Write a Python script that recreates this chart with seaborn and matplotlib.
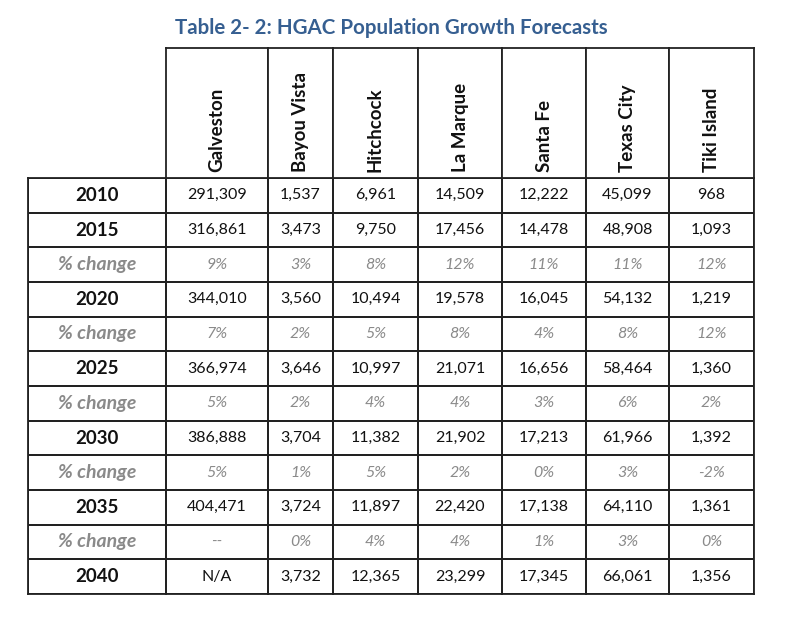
import numpy as np
import matplotlib
matplotlib.use("Agg")
import matplotlib.pyplot as plt
from matplotlib.colors import ListedColormap
import seaborn as sns

# table contents
cities = ["Galveston", "Bayou Vista", "Hitchcock", "La Marque", "Santa Fe", "Texas City", "Tiki Island"]
row_labels = ["2010", "2015", "% change", "2020", "% change", "2025", "% change",
              "2030", "% change", "2035", "% change", "2040"]

pop_2010 = [291309, 1537, 6961, 14509, 12222, 45099, 968]
pop_2015 = [316861, 3473, 9750, 17456, 14478, 48908, 1093]
pct_2015 = ["9%", "3%", "8%", "12%", "11%", "11%", "12%"]
pop_2020 = [344010, 3560, 10494, 19578, 16045, 54132, 1219]
pct_2020 = ["7%", "2%", "5%", "8%", "4%", "8%", "12%"]
pop_2025 = [366974, 3646, 10997, 21071, 16656, 58464, 1360]
pct_2025 = ["5%", "2%", "4%", "4%", "3%", "6%", "2%"]
pop_2030 = [386888, 3704, 11382, 21902, 17213, 61966, 1392]
pct_2030 = ["5%", "1%", "5%", "2%", "0%", "3%", "-2%"]
pop_2035 = [404471, 3724, 11897, 22420, 17138, 64110, 1361]
pct_2035 = ["--", "0%", "4%", "4%", "1%", "3%", "0%"]
pop_2040 = [None, 3732, 12365, 23299, 17345, 66061, 1356]

def fmt_pop(vals):
    return ["N/A" if v is None else f"{v:,}" for v in vals]

rows = [fmt_pop(pop_2010), fmt_pop(pop_2015), pct_2015, fmt_pop(pop_2020), pct_2020,
        fmt_pop(pop_2025), pct_2025, fmt_pop(pop_2030), pct_2030, fmt_pop(pop_2035),
        pct_2035, fmt_pop(pop_2040)]
cells = np.array(rows, dtype=object)
is_pct = [lab == "% change" for lab in row_labels]

sns.set_theme(style="white")
plt.rcParams["font.family"] = ["Lato", "DejaVu Sans"]

W, H = 801, 623
fig = plt.figure(figsize=(W / 100, H / 100), dpi=100)

# layout in pixels
col_edges = [28, 166, 268, 333, 418, 502, 586, 669, 754]
head_top, head_bot, body_bot = 48, 178, 594
grey = "#8a8a8a"
white = ListedColormap(["white"])

def ax_at(x0, x1, y0, y1):
    return fig.add_axes([x0 / W, (H - y1) / H, (x1 - x0) / W, (y1 - y0) / H])

def outline(ax):
    for s in ax.spines.values():
        s.set_visible(True)
        s.set_color("#222222")
        s.set_linewidth(1.3)

for i in range(len(col_edges) - 1):
    x0, x1 = col_edges[i], col_edges[i + 1]
    ax = ax_at(x0, x1, head_bot, body_bot)
    if i == 0:
        annot = np.array(row_labels, dtype=object).reshape(-1, 1)
    else:
        annot = cells[:, i - 1].reshape(-1, 1)
    sns.heatmap(np.zeros((len(row_labels), 1)), ax=ax, cmap=white, vmin=0, vmax=1,
                cbar=False, annot=annot, fmt="", linewidths=1.3, linecolor="#222222",
                xticklabels=False, yticklabels=False, annot_kws={"fontsize": 11.5})
    outline(ax)
    for t, pct in zip(ax.texts, is_pct):
        t.set_color(grey if pct else "#111111")
        if i == 0:
            t.set_fontsize(14 if pct else 13.5)
            t.set_fontweight("bold")
        if pct:
            t.set_fontstyle("italic")

    if i > 0:
        hax = ax_at(x0, x1, head_top, head_bot)
        sns.heatmap(np.zeros((1, 1)), ax=hax, cmap=white, vmin=0, vmax=1, cbar=False,
                    xticklabels=False, yticklabels=False)
        outline(hax)
        hax.text(0.5, 0.05, cities[i - 1], rotation=90, ha="center", va="bottom",
                 fontsize=13.5, fontweight="bold", color="#111111", transform=hax.transAxes)

fig.text(391 / W, 1 - 28 / H, "Table 2- 2: HGAC Population Growth Forecasts", ha="center",
         va="center", fontsize=14.8, fontweight="bold", color="#365F91")

fig.savefig("out.png", dpi=100)
